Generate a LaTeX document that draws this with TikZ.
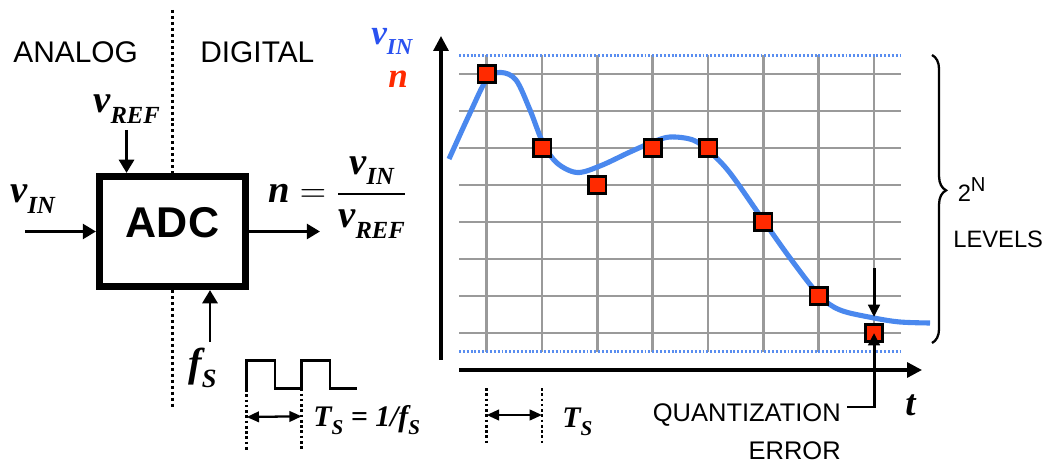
\documentclass[tikz,border=0pt]{standalone}
\usepackage{amsmath}
\usepackage{fontspec}
\setmainfont{Liberation Serif}
\setsansfont{Liberation Sans}
\usepackage{tikz}
\usetikzlibrary{arrows.meta, positioning, calc, decorations.pathreplacing}
\usepackage{xcolor}
\definecolor{sigblue}{HTML}{4A88EE}
\definecolor{lblblue}{HTML}{2A52F0}
\definecolor{smpred}{HTML}{FF2A00}
\definecolor{gridgray}{HTML}{9A9A9A}
\definecolor{levblue}{HTML}{5A8EF0}

% bold italic variable with a lowered subscript: size, subscript size, letter, subscript
\newcommand{\vsub}[4]{{\fontsize{#1}{#1}\selectfont\bfseries\itshape #3\raisebox{-0.27em}{\fontsize{#2}{#2}\selectfont #4}}}

\begin{document}
\begin{tikzpicture}[x=0.02cm, y=-0.02cm,
    sans/.style={font=\sffamily\fontsize{17}{20}\selectfont, inner sep=0pt},
    sig/.style={inner sep=0pt},
    wire/.style={line width=1.7pt, -{Triangle[length=7.5pt,width=8.5pt]}},
    axisline/.style={line width=1.8pt, -{Triangle[length=8.5pt,width=8.5pt]}},
    gridline/.style={gridgray, line width=1.5pt},
    levelline/.style={levblue, line width=1.3pt, dash pattern=on 1.1pt off 1.1pt},
    dividerline/.style={line width=1.7pt, dash pattern=on 1.7pt off 1.7pt},
    dotmark/.style={line width=1.5pt, dash pattern=on 1.5pt off 1.5pt},
    perarrow/.style={line width=1.3pt, {Triangle[length=7pt,width=6pt]}-{Triangle[length=7pt,width=6pt]}},
    smpbox/.style={draw, line width=1.5pt, fill=smpred, minimum size=10pt, inner sep=0pt},
    qarrow/.style={line width=1.7pt, -{Triangle[length=7pt,width=6.5pt]}}]
\useasboundingbox (0,0) rectangle (1050,465);

% ---- converter side
\node[sans, anchor=base west] (analog) at (13,63) {ANALOG};
\node[sans, anchor=base west] (digital) at (200,63) {DIGITAL};
\node[draw, line width=3.8pt, minimum width=2.93cm, minimum height=2.21cm, text depth=10.5pt,
      font=\sffamily\bfseries\fontsize{24.5}{24.5}\selectfont] (adc) at (172.5,231.5) {ADC};

\coordinate (divtop) at (172.5,10);
\coordinate (divbot) at (172.5,407);
\draw[dividerline] (divtop) -- (adc.north);
\draw[dividerline] (adc.south) -- (divbot);

\node[sig, anchor=base west] (vref) at (93,113) {\vsub{22}{14}{v}{REF}};
\draw[wire] ($(vref.south)+(0,6)$) -- (vref.south |- adc.north);

\node[sig, anchor=base west] (vin) at (10,203) {\vsub{22}{14}{v}{IN}};
\coordinate (vinstart) at (25,231.5);
\draw[wire] (vinstart) -- (adc.west);

\coordinate (nout) at (320,231.5);
\draw[wire] (adc.east) -- (nout);
\node[sig, anchor=base west, font=\fontsize{22}{26}\selectfont] (ratio) at (268,203)
  {$\mbox{\bfseries\itshape n} = \genfrac{}{}{1.5pt}{0}{\mbox{\vsub{22}{14}{v}{IN}}}{\mbox{\vsub{22}{14}{v}{REF}}}$};

\coordinate (fsfoot) at (210,342);
\draw[wire] (fsfoot) -- (fsfoot |- adc.south);
\node[sig, anchor=base west] (fs) at (188,377) {\vsub{23}{15}{f}{S}};

% clock
\draw[line width=1.7pt] (246.7,389) coordinate (ck1) |- (275,360.7) |- (301.7,388.3) coordinate (ck2)
  |- (330,360.7) |- (357,388.3);
\draw[dotmark] (ck1) -- ++(0,62);
\draw[dotmark] (ck2) -- ++(0,62);
\draw[perarrow] ($(ck1)+(0,28)$) -- ($(ck2)+(0,28)$);
\node[sig, anchor=base west] (tsdef) at (313,426)
  {{\fontsize{17}{17}\selectfont\bfseries\itshape T\raisebox{-0.27em}{\fontsize{12}{12}\selectfont S} = 1/f\raisebox{-0.27em}{\fontsize{12}{12}\selectfont S}}};

% ---- sampled signal
\foreach \col in {0,...,7}
  \draw[gridline] ({486.7+55.33*\col},55) -- ({486.7+55.33*\col},352);
\foreach \row in {0,...,7}
  \draw[gridline] (459,{74+37*\row}) -- (901,{74+37*\row});
\draw[levelline] (459,55.5) -- (901,55.5);
\draw[levelline] (459,351.5) -- (901,351.5);

\draw[sigblue, line width=2.9pt] plot[smooth, tension=0.55] coordinates {
  (449,159) (470,113) (487,79) (501,72.5) (516,80) (530,110) (543,143) (557,163)
  (577,172.5) (600,166) (630,152) (653,142) (670,137) (693,140) (710,152) (730,173)
  (763,220) (790,258) (819,295) (840,310) (874,318) (900,322) (930,323)};

\foreach \col/\row [count=\k] in {0/0,1/2,2/3,3/2,4/2,5/4,6/6,7/7}
  \node[smpbox] (s\k) at ({486.7+55.33*\col},{74+37*\row}) {};

\draw[axisline] (441,360) -- (441,36);
\draw[axisline] (459,370) -- (922,370);

\node[sig, anchor=base west, text=lblblue] (vinax) at (371,45) {\vsub{20}{13}{v}{IN}};
\node[sig, anchor=base west, text=smpred] (nax) at (388,88) {{\fontsize{20}{20}\selectfont\bfseries\itshape n}};
\node[sig, anchor=base west] (tax) at (905,415) {{\fontsize{21}{21}\selectfont\bfseries\itshape t}};

\coordinate (ta) at (486.7,388);
\coordinate (tb) at (542,388);
\draw[dotmark] (ta) -- ++(0,55);
\draw[dotmark] (tb) -- ++(0,55);
\draw[perarrow] ($(ta)+(0,27)$) -- ($(tb)+(0,27)$);
\node[sig, anchor=base west] (tsax) at (562,427) {\vsub{17}{12}{T}{S}};

% quantization error
\coordinate (qtop) at (874,268);
\coordinate (qhit) at (874,317);
\draw[qarrow] (qtop) -- (qhit);
\node[sans, font=\sffamily\fontsize{14.5}{22}\selectfont, align=right, anchor=north east] (qerr) at (841,403)
  {QUANTIZATION\\ERROR};
\coordinate (qfoot) at (847,407);
\draw[qarrow] (qfoot) -| (s8.center);

% levels
\draw[line width=1.3pt, decorate, decoration={brace, amplitude=8pt, aspect=0.47}] (932,55) -- (932,343);
\node[sans, font=\sffamily\fontsize{13.5}{26}\selectfont, align=left, anchor=north west] (levels) at (953,177)
  {\hspace*{2.5pt}2\raisebox{0.44em}{\fontsize{11.5}{11.5}\selectfont N}\\LEVELS};
\end{tikzpicture}
\end{document}
